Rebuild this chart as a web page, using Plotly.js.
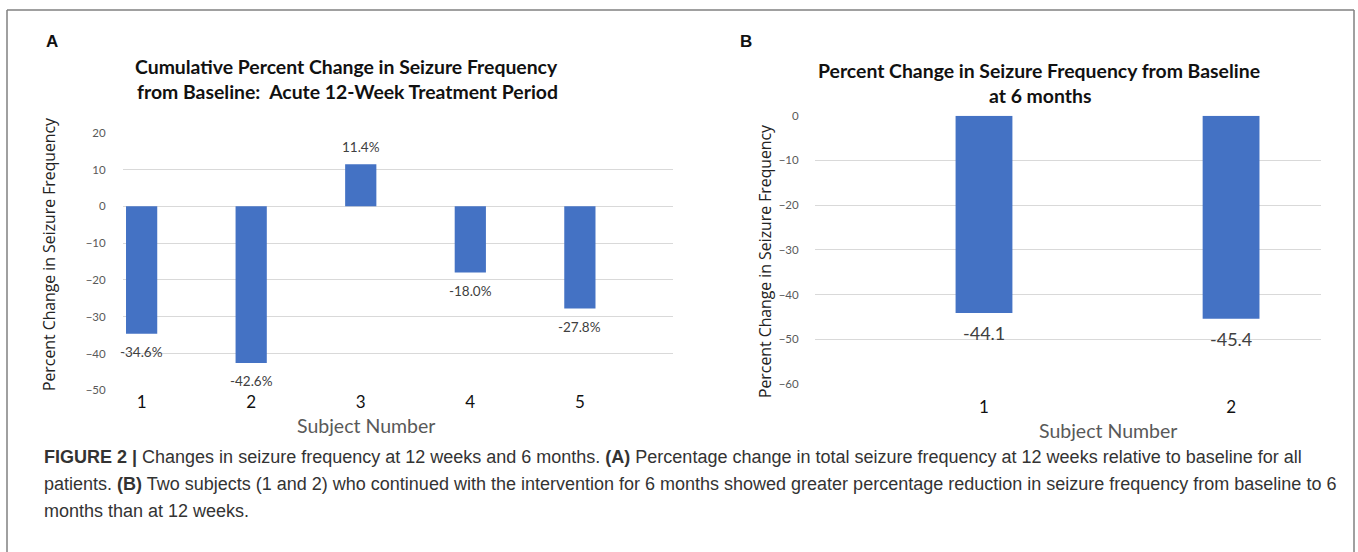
<!DOCTYPE html>
<html>
<head>
<meta charset="utf-8">
<script src="https://cdn.plot.ly/plotly-3.0.1.min.js"></script>
<style>html,body{margin:0;padding:0;background:#fff;}#chart{width:1358px;height:552px;}</style>
</head>
<body>
<div id="chart"></div>
<script>
// ---- data ----
const subjectsA = [1, 2, 3, 4, 5];
const changeA = [-34.6, -42.6, 11.4, -18.0, -27.8];
const labelsA = ["-34.6%", "-42.6%", "11.4%", "-18.0%", "-27.8%"];
const subjectsB = [1, 2];
const changeB = [-44.1, -45.4];
const labelsB = ["-44.1", "-45.4"];
const tickValsA = [20, 10, 0, -10, -20, -30, -40, -50];
const tickValsB = [0, -10, -20, -30, -40, -50, -60];

const W = 1358, H = 552;
const px = p => p / W;
const py = p => 1 - p / H;

const barColor = '#4472C4';
const grid = '#d9d9d9';
const tickFont = {family: 'Lato, "Open Sans", sans-serif', size: 11.5, color: '#595959'};

const traces = [
  {type: 'bar', x: subjectsA, y: changeA, xaxis: 'x', yaxis: 'y', width: 0.285,
   marker: {color: barColor}, hoverinfo: 'x+y', showlegend: false},
  {type: 'bar', x: subjectsB, y: changeB, xaxis: 'x2', yaxis: 'y2', width: 0.23,
   marker: {color: barColor}, hoverinfo: 'x+y', showlegend: false}
];

const annotations = [];
// value labels
subjectsA.forEach((s, i) => {
  annotations.push({xref: 'x', yref: 'y', x: s, y: changeA[i], text: labelsA[i], showarrow: false,
    yshift: changeA[i] < 0 ? -18 : 17, font: {family: 'Lato, sans-serif', size: 13.5, color: '#404040'}});
});
subjectsB.forEach((s, i) => {
  annotations.push({xref: 'x2', yref: 'y2', x: s, y: changeB[i], text: labelsB[i], showarrow: false,
    yshift: -20, font: {family: 'Lato, sans-serif', size: 18, color: '#404040'}});
});

function txt(x, y, text, font, extra) {
  return Object.assign({xref: 'paper', yref: 'paper', x: px(x), y: py(y), text: text, showarrow: false,
    xanchor: 'center', yanchor: 'middle', font: font}, extra || {});
}
const titleFont = {family: 'Lato, sans-serif', size: 19.4, color: '#111'};
annotations.push(txt(52, 41, '<b>A</b>', {family: 'Liberation Sans, Arial, sans-serif', size: 17, color: '#111'}));
annotations.push(txt(746, 41, '<b>B</b>', {family: 'Liberation Sans, Arial, sans-serif', size: 17, color: '#111'}));
annotations.push(txt(346, 67, '<b>Cumulative Percent Change in Seizure Frequency</b>', titleFont));
annotations.push(txt(348, 92, '<b>from Baseline:  Acute 12-Week Treatment Period</b>', titleFont));
annotations.push(txt(1039, 70, '<b>Percent Change in Seizure Frequency from Baseline</b>', titleFont));
annotations.push(txt(1040, 95, '<b>at 6 months</b>', titleFont));
const axTitleFont = {family: '"Open Sans", sans-serif', size: 15.8, color: '#222'};
annotations.push(txt(49, 255, 'Percent Change in Seizure Frequency', axTitleFont, {textangle: -90}));
annotations.push(txt(765, 262, 'Percent Change in Seizure Frequency', axTitleFont, {textangle: -90}));
const xTitleFont = {family: 'Lato, sans-serif', size: 19.5, color: '#595959'};
annotations.push(txt(366, 425, 'Subject Number', xTitleFont));
annotations.push(txt(1108, 430, 'Subject Number', xTitleFont));

// caption
const capFont = {family: '"Liberation Sans", Arial, sans-serif', size: 18, color: '#333'};
const capLines = [
  '<b>FIGURE 2 |</b> Changes in seizure frequency at 12 weeks and 6 months. <b>(A)</b> Percentage change in total seizure frequency at 12 weeks relative to baseline for all',
  'patients. <b>(B)</b> Two subjects (1 and 2) who continued with the intervention for 6 months showed greater percentage reduction in seizure frequency from baseline to 6',
  'months than at 12 weeks.'
];
capLines.forEach((l, i) => annotations.push(txt(42, 457 + i * 27, l, capFont, {xanchor: 'left', align: 'left'})));

const border = {color: '#808080', width: 1.5};
const shapes = [
  {type: 'line', xref: 'paper', yref: 'paper', x0: px(7), x1: px(1354), y0: py(10), y1: py(10), line: border},
  {type: 'line', xref: 'paper', yref: 'paper', x0: px(7), x1: px(7), y0: py(10), y1: -0.05, line: border},
  {type: 'line', xref: 'paper', yref: 'paper', x0: px(1354), x1: px(1354), y0: py(10), y1: -0.05, line: border}
];

const xFont = {family: 'Lato, sans-serif', size: 17, color: '#111'};
const layout = {
  width: W, height: H,
  margin: {l: 0, r: 0, t: 0, b: 0},
  paper_bgcolor: '#fff', plot_bgcolor: '#fff',
  showlegend: false,
  xaxis: {domain: [px(123), px(673)], range: [0.83, 5.85], tickvals: subjectsA, ticktext: subjectsA.map(String),
    showgrid: false, zeroline: false, showline: false, ticks: '',
    tickfont: xFont, fixedrange: true},
  yaxis: {domain: [py(390.3), py(132.7)], range: [-50, 20], tickvals: tickValsA,
    showgrid: true, gridcolor: grid, gridwidth: 1, zeroline: false, showline: false,
    ticks: 'outside', ticklen: 14, tickcolor: 'rgba(0,0,0,0)', tickfont: tickFont, fixedrange: true},
  xaxis2: {domain: [px(815), px(1321)], range: [0.316, 2.364], tickvals: subjectsB, ticktext: subjectsB.map(String),
    anchor: 'y2', showgrid: false, zeroline: false, showline: false, ticks: 'outside', ticklen: 8,
    tickcolor: 'rgba(0,0,0,0)', tickfont: xFont, fixedrange: true},
  yaxis2: {domain: [py(384), py(115.7)], range: [-60, 0], tickvals: tickValsB, anchor: 'x2',
    showgrid: true, gridcolor: grid, gridwidth: 1, zeroline: false, showline: false,
    ticks: 'outside', ticklen: 13, tickcolor: 'rgba(0,0,0,0)', tickfont: tickFont, fixedrange: true},
  annotations: annotations,
  shapes: shapes
};

Plotly.newPlot('chart', traces, layout, {displayModeBar: false, staticPlot: true});
</script>
</body>
</html>
